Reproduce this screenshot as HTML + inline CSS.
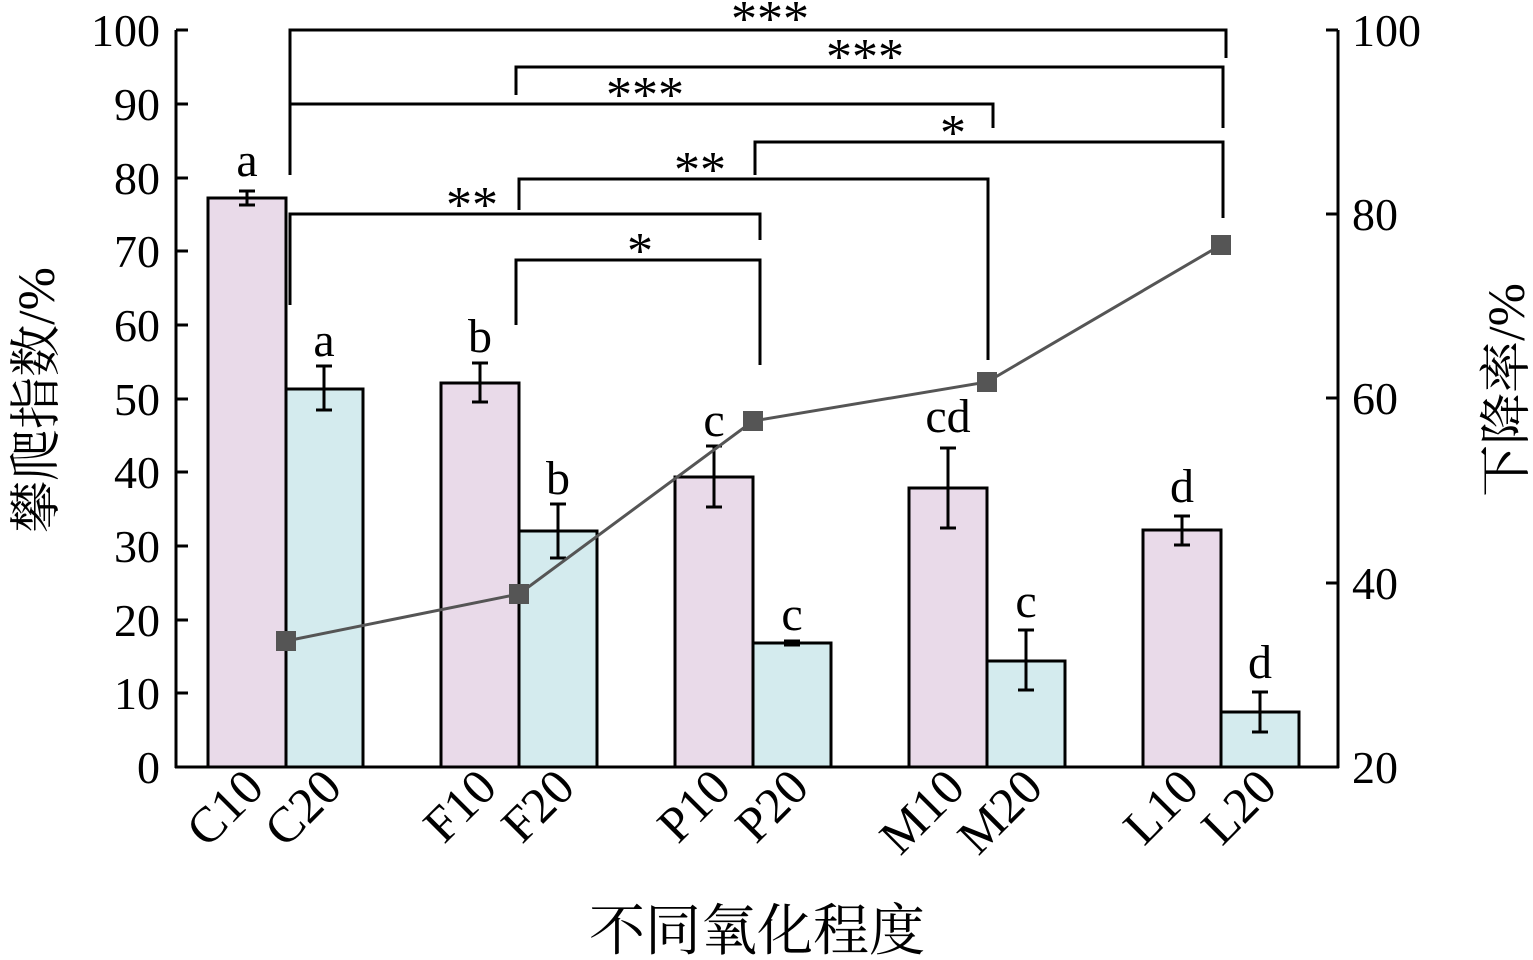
<!DOCTYPE html><html><head><style>body{margin:0;background:#fff}svg{display:block}text{font-family:"Liberation Serif","Noto Serif CJK SC",serif;fill:#000}</style></head><body>
<svg width="1533" height="960" viewBox="0 0 1533 960">
<g stroke="#000" stroke-width="3" fill="none">
<line x1="176" y1="30" x2="176" y2="768"/><line x1="1338" y1="30" x2="1338" y2="768"/><line x1="175" y1="767" x2="1339" y2="767"/>
<path d="M176 30h12M176 104h12M176 178h12M176 251h12M176 325h12M176 399h12M176 472h12M176 546h12M176 620h12M176 693h12"/>
<path d="M1338 30h-12M1338 214h-12M1338 398h-12M1338 583h-12"/>
</g>
<g font-size="46" text-anchor="end">
<text x="160" y="46">100</text><text x="160" y="120">90</text><text x="160" y="194">80</text><text x="160" y="267">70</text><text x="160" y="341">60</text><text x="160" y="415">50</text><text x="160" y="488">40</text><text x="160" y="562">30</text><text x="160" y="636">20</text><text x="160" y="709">10</text><text x="160" y="783">0</text>
</g>
<g font-size="46"><text x="1352" y="46">100</text><text x="1352" y="230">80</text><text x="1352" y="414">60</text><text x="1352" y="599">40</text><text x="1352" y="783">20</text></g>
<g stroke="#000" stroke-width="3">
<rect x="208" y="198" width="78" height="569" fill="#e9dae9"/><rect x="286" y="389" width="77" height="378" fill="#d4ebee"/>
<rect x="441" y="383" width="78" height="384" fill="#e9dae9"/><rect x="519" y="531" width="78" height="236" fill="#d4ebee"/>
<rect x="675" y="477" width="78" height="290" fill="#e9dae9"/><rect x="753" y="643" width="78" height="124" fill="#d4ebee"/>
<rect x="909" y="488" width="78" height="279" fill="#e9dae9"/><rect x="987" y="661" width="78" height="106" fill="#d4ebee"/>
<rect x="1143" y="530" width="78" height="237" fill="#e9dae9"/><rect x="1221" y="712" width="78" height="55" fill="#d4ebee"/>
</g>
<g stroke="#000" stroke-width="3" fill="none">
<path d="M247 191v14M239 191h16M239 205h16"/>
<path d="M324 366v44M316 366h16M316 410h16"/>
<path d="M480 363v39M472 363h16M472 402h16"/>
<path d="M558 504v54M550 504h16M550 558h16"/>
<path d="M714 446v61M706 446h16M706 507h16"/>
<path d="M792 641v4M784 641h16M784 645h16"/>
<path d="M948 448v80M940 448h16M940 528h16"/>
<path d="M1026 630v60M1018 630h16M1018 690h16"/>
<path d="M1182 516v29M1174 516h16M1174 545h16"/>
<path d="M1260 692v40M1252 692h16M1252 732h16"/>
</g>
<polyline points="286,641 519,594 753,421 987,382 1221,245" fill="none" stroke="#555" stroke-width="3"/>
<g fill="#555"><rect x="276" y="631" width="20" height="20"/><rect x="509" y="584" width="20" height="20"/><rect x="743" y="411" width="20" height="20"/><rect x="977" y="372" width="20" height="20"/><rect x="1211" y="235" width="20" height="20"/></g>
<g stroke="#000" stroke-width="3" fill="none">
<path d="M290 175V30H1226V58"/>
<path d="M516 95V67H1223V128"/>
<path d="M290 128V104H993V128"/>
<path d="M755 175V142H1223V218"/>
<path d="M519 210V179H988V360"/>
<path d="M290 305V214H760V240"/>
<path d="M516 325V260H760V365"/>
</g>
<g font-size="52" text-anchor="middle">
<text x="770" y="36">***</text><text x="865" y="74">***</text><text x="645" y="112">***</text><text x="953" y="150">*</text><text x="700" y="187">**</text><text x="472" y="222">**</text><text x="640" y="268">*</text>
</g>
<g font-size="48" text-anchor="middle">
<text x="247" y="176">a</text><text x="324" y="356">a</text><text x="480" y="352">b</text><text x="558" y="494">b</text><text x="714" y="436">c</text><text x="792" y="630">c</text><text x="948" y="432">cd</text><text x="1026" y="617">c</text><text x="1182" y="502">d</text><text x="1260" y="678">d</text>
</g>
<g font-size="50" text-anchor="end">
<text transform="translate(266,790) rotate(-45)">C10</text><text transform="translate(344,790) rotate(-45)">C20</text>
<text transform="translate(499,790) rotate(-45)">F10</text><text transform="translate(577,790) rotate(-45)">F20</text>
<text transform="translate(733,790) rotate(-45)">P10</text><text transform="translate(811,790) rotate(-45)">P20</text>
<text transform="translate(967,790) rotate(-45)">M10</text><text transform="translate(1045,790) rotate(-45)">M20</text>
<text transform="translate(1201,790) rotate(-45)">L10</text><text transform="translate(1279,790) rotate(-45)">L20</text>
</g>
<text x="757" y="950" font-size="56" text-anchor="middle">不同氧化程度</text>
<text transform="translate(54,400) rotate(-90)" font-size="52" text-anchor="middle">攀爬指数/%</text>
<text transform="translate(1524,390) rotate(-90)" font-size="52" text-anchor="middle">下降率/%</text>
</svg></body></html>
